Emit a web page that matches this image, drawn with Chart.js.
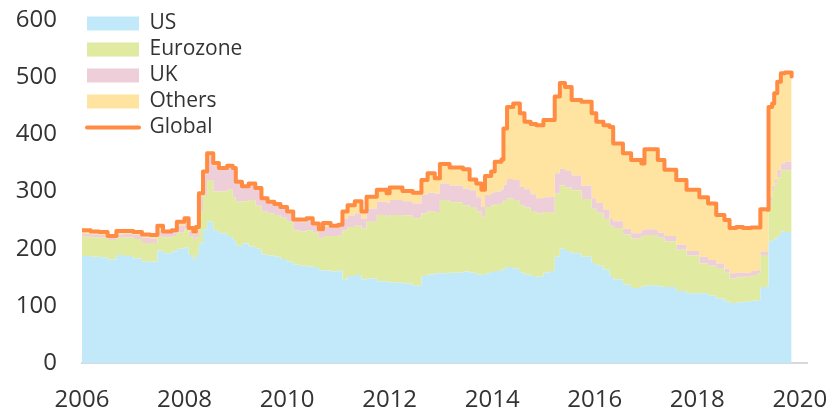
<!DOCTYPE html>
<html>
<head>
<meta charset="utf-8">
<script src="https://cdn.jsdelivr.net/npm/chart.js@4.4.1/dist/chart.umd.min.js"></script>
<style>
  html, body { margin: 0; padding: 0; background: #ffffff; }
  #wrap { position: relative; width: 840px; height: 409px; }
</style>
</head>
<body>
<div id="wrap"><canvas id="c"></canvas></div>
<script>
// Decimal-year dates of the observations
const dates = [2006.00, 2006.17, 2006.33, 2006.50, 2006.67, 2006.83, 2007.00, 2007.17, 2007.33, 2007.47,
  2007.58, 2007.75, 2007.85, 2008.00, 2008.08, 2008.17, 2008.22, 2008.28, 2008.36, 2008.44,
  2008.56, 2008.67, 2008.83, 2008.94, 2009.00, 2009.12, 2009.25, 2009.38, 2009.50, 2009.62,
  2009.75, 2009.87, 2010.00, 2010.12, 2010.25, 2010.38, 2010.50, 2010.62, 2010.70, 2010.85,
  2011.00, 2011.08, 2011.18, 2011.32, 2011.45, 2011.55, 2011.75, 2011.94, 2012.00, 2012.25,
  2012.45, 2012.62, 2012.74, 2012.88, 2012.98, 2013.17, 2013.43, 2013.56, 2013.69, 2013.79,
  2013.86, 2013.98, 2014.05, 2014.18, 2014.22, 2014.29, 2014.41, 2014.54, 2014.63, 2014.75,
  2014.86, 2015.00, 2015.12, 2015.22, 2015.32, 2015.42, 2015.55, 2015.74, 2015.94, 2016.03,
  2016.17, 2016.29, 2016.36, 2016.55, 2016.71, 2016.91, 2016.97, 2017.17, 2017.23, 2017.36,
  2017.59, 2017.79, 2018.04, 2018.21, 2018.37, 2018.53, 2018.63, 2018.76, 2018.89, 2019.05,
  2019.18, 2019.23, 2019.36, 2019.39, 2019.46, 2019.50, 2019.56, 2019.63, 2019.71, 2019.84];

const us = [187, 186, 185, 181, 189, 187, 183, 177, 177, 197,
  192, 195, 200, 202, 189, 180, 189, 209, 234, 247,
  232, 227, 222, 215, 205, 209, 204, 200, 190, 188,
  186, 182, 177, 172, 170, 169, 168, 162, 162, 160,
  162, 146, 152, 154, 146, 148, 143, 142, 141, 139,
  135, 152, 155, 157, 157, 158, 160, 158, 155, 154,
  157, 159, 161, 163, 165, 168, 165, 158, 155, 152,
  151, 158, 161, 186, 200, 196, 192, 186, 175, 170,
  163, 152, 146, 137, 131, 134, 135, 136, 134, 133,
  126, 122, 122, 118, 113, 108, 105, 106, 107, 109,
  110, 133, 134, 212, 215, 218, 222, 230, 229, 226];

const eurozone = [34, 34, 34, 34, 30, 33, 34, 33, 33, 24,
  28, 27, 28, 33, 33, 35, 31, 56, 60, 73,
  68, 73, 81, 75, 77, 74, 81, 75, 75, 74,
  73, 72, 70, 60, 60, 63, 60, 56, 60, 62,
  62, 86, 86, 86, 89, 99, 116, 113, 118, 119,
  118, 110, 110, 107, 128, 123, 116, 115, 110, 102,
  116, 117, 117, 117, 119, 120, 120, 118, 117, 114,
  111, 106, 102, 111, 111, 111, 110, 101, 95, 93,
  89, 88, 90, 88, 87, 88, 89, 88, 85, 80,
  72, 66, 52, 52, 53, 50, 43, 44, 44, 45,
  47, 56, 55, 70, 85, 96, 103, 108, 108, 109];

const uk = [5, 5, 5, 4, 6, 6, 7, 9, 8, 11,
  8, 7, 12, 9, 8, 9, 12, 26, 36, 42,
  45, 40, 41, 48, 32, 23, 27, 30, 20, 17,
  16, 16, 15, 16, 16, 16, 12, 12, 16, 15,
  16, 20, 20, 22, 17, 23, 23, 25, 26, 25,
  26, 32, 33, 32, 29, 29, 29, 29, 25, 17,
  21, 22, 22, 23, 28, 34, 35, 32, 32, 29,
  26, 26, 28, 35, 29, 29, 26, 23, 18, 17,
  16, 12, 12, 10, 9, 10, 10, 9, 9, 9,
  9, 8, 12, 10, 8, 7, 9, 8, 7, 7,
  6, 6, 6, 9, 10, 6, 13, 11, 15, 17];

const others = [6, 5, 5, 3, 6, 5, 5, 6, 6, 8,
  2, 3, 7, 9, 6, 6, 6, 6, 5, 5,
  5, 1, 1, 3, 3, 3, 2, 1, 3, 3,
  3, 3, 3, 3, 5, 5, 4, 4, 7, 3,
  2, 13, 18, 21, 13, 21, 21, 17, 22, 18,
  19, 26, 34, 27, 34, 32, 34, 19, 24, 30,
  33, 37, 52, 53, 98, 126, 134, 129, 118, 123,
  128, 135, 134, 134, 150, 147, 132, 147, 149, 142,
  148, 161, 136, 132, 128, 117, 140, 141, 127, 116,
  113, 107, 104, 99, 85, 85, 79, 80, 78, 76,
  74, 74, 73, 157, 144, 152, 154, 158, 156, 149];

const globalTotal = [232, 230, 229, 222, 231, 231, 229, 225, 224, 240,
  230, 232, 247, 253, 236, 230, 238, 297, 335, 367,
  350, 341, 345, 341, 317, 309, 314, 306, 288, 282,
  278, 273, 265, 251, 251, 253, 244, 234, 245, 240,
  242, 265, 276, 283, 265, 291, 303, 297, 307, 301,
  298, 320, 332, 323, 348, 342, 339, 321, 314, 303,
  327, 335, 352, 356, 410, 448, 454, 437, 422, 418,
  416, 425, 425, 466, 490, 483, 460, 457, 437, 422,
  416, 413, 384, 367, 355, 349, 374, 374, 355, 338,
  320, 303, 290, 279, 259, 250, 236, 238, 236, 237,
  237, 269, 268, 448, 454, 472, 492, 507, 508, 501];

const seriesNames = ['US', 'Eurozone', 'UK', 'Others', 'Global'];
const yearTicks = [2006, 2008, 2010, 2012, 2014, 2016, 2018, 2020];
const yTickValues = [0, 100, 200, 300, 400, 500, 600];

const colors = {
  us: 'rgb(193,233,250)',
  eurozone: 'rgb(224,234,161)',
  uk: 'rgb(238,206,216)',
  others: 'rgb(254,228,160)',
  global: 'rgb(255,140,66)'
};

const toXY = arr => dates.map((d, i) => ({ x: d, y: arr[i] }));

const areaDs = (label, arr, color, fill) => ({
  label: label,
  data: toXY(arr),
  backgroundColor: color,
  borderColor: 'rgba(0,0,0,0)',
  borderWidth: 0,
  pointRadius: 0,
  pointHoverRadius: 0,
  stepped: true,
  fill: fill,
  stack: 'areas'
});

const legendShift = {
  id: 'legendShift',
  afterLayout(chart) {
    const lg = chart.legend;
    if (lg) {
      const h = lg.height;
      lg.top = 8;
      lg.bottom = 8 + h;
    }
  }
};

Chart.defaults.font.family = "'Open Sans', 'DejaVu Sans', sans-serif";
Chart.defaults.color = '#333333';

new Chart(document.getElementById('c'), {
  type: 'line',
  data: {
    datasets: [
      areaDs(seriesNames[0], us, colors.us, 'origin'),
      areaDs(seriesNames[1], eurozone, colors.eurozone, '-1'),
      areaDs(seriesNames[2], uk, colors.uk, '-1'),
      areaDs(seriesNames[3], others, colors.others, '-1'),
      {
        label: seriesNames[4],
        data: toXY(globalTotal),
        borderColor: colors.global,
        backgroundColor: colors.global,
        borderWidth: 4,
        borderJoinStyle: 'round',
        borderCapStyle: 'round',
        pointRadius: 0,
        pointHoverRadius: 0,
        stepped: true,
        fill: false,
        stack: 'global',
        order: -1
      }
    ]
  },
  options: {
    responsive: true,
    maintainAspectRatio: false,
    animation: false,
    events: [],
    layout: { padding: { left: 16, top: 20, right: 33, bottom: 0 } },
    plugins: {
      title: { display: false },
      tooltip: { enabled: false },
      legend: {
        position: 'chartArea',
        align: 'start',
        labels: {
          usePointStyle: true,
          pointStyleWidth: 52,
          boxHeight: 14,
          padding: 5,
          color: '#333333',
          font: { size: 21 },
          sort: (a, b) => a.datasetIndex - b.datasetIndex,
          generateLabels(chart) {
            const items = Chart.defaults.plugins.legend.labels.generateLabels(chart);
            items.forEach(it => {
              if (it.datasetIndex === 4) {
                it.pointStyle = 'line';
                it.lineWidth = 4;
                it.strokeStyle = colors.global;
                it.lineCap = 'round';
              } else {
                it.pointStyle = 'rect';
                it.lineWidth = 0;
                it.strokeStyle = 'rgba(0,0,0,0)';
              }
            });
            return items;
          }
        }
      }
    },
    scales: {
      x: {
        type: 'linear',
        min: 2006,
        max: 2020.14,
        afterBuildTicks: scale => { scale.ticks = yearTicks.map(v => ({ value: v })); },
        afterFit: scale => { scale.height = 46; scale.paddingLeft = 0; scale.paddingRight = 0; },
        grid: { display: false, drawTicks: false },
        border: { display: true, color: '#d9d9d9', width: 2 },
        ticks: {
          autoSkip: false,
          maxRotation: 0,
          padding: 25,
          color: '#333333',
          font: { size: 24, lineHeight: 1 },
          callback: v => String(v)
        }
      },
      y: {
        stacked: true,
        min: 0,
        max: 600,
        afterBuildTicks: scale => { scale.ticks = yTickValues.map(v => ({ value: v })); },
        afterFit: scale => { scale.width = 66; scale.paddingTop = 0; scale.paddingBottom = 0; },
        grid: { display: false, drawTicks: false },
        border: { display: false },
        ticks: {
          padding: 25,
          color: '#333333',
          font: { size: 24, lineHeight: 1 },
          callback: v => String(v)
        }
      }
    }
  },
  plugins: [legendShift]
});
</script>
</body>
</html>
